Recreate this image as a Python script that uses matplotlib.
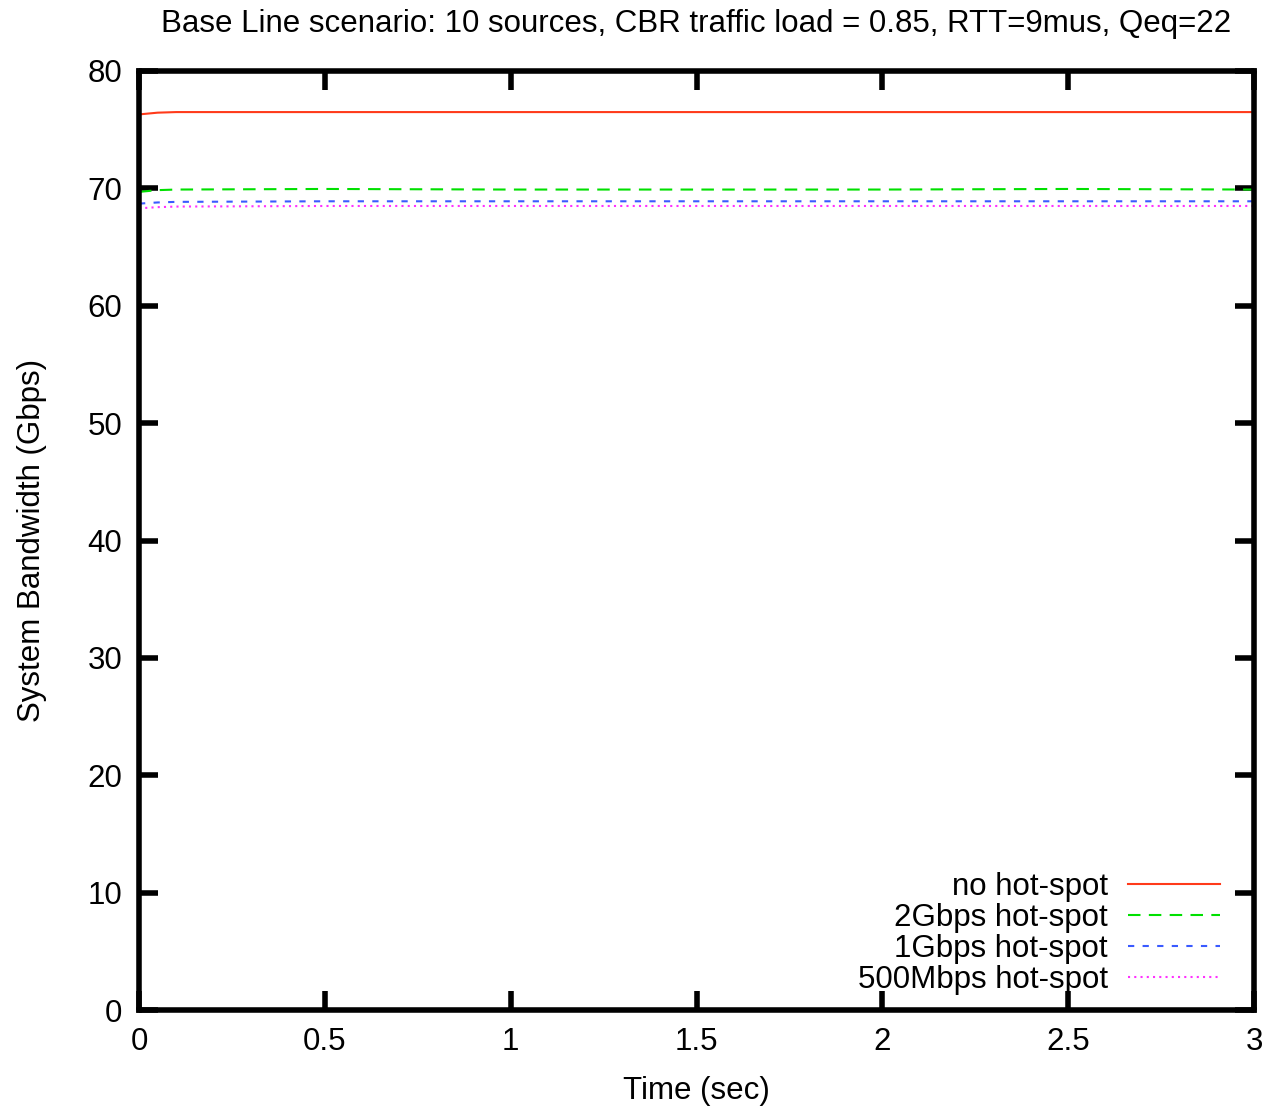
import matplotlib.pyplot as plt

# time axis (sec) and bandwidth (Gbps)
t = [0.0, 0.05, 0.1, 0.5, 1.0, 1.5, 2.0, 2.5, 3.0]
no_hot = [76.3, 76.45, 76.5, 76.5, 76.5, 76.5, 76.5, 76.5, 76.5]
hot_2g = [69.7, 69.85, 69.9, 69.95, 69.9, 69.9, 69.9, 69.95, 69.9]
hot_1g = [68.7, 68.8, 68.85, 68.9, 68.9, 68.9, 68.9, 68.9, 68.9]
hot_500m = [68.3, 68.4, 68.45, 68.5, 68.5, 68.5, 68.5, 68.5, 68.5]

plt.rcParams['font.family'] = ['Liberation Sans', 'DejaVu Sans']
fs = 22.5

fig = plt.figure(figsize=(12.74, 11.08), dpi=100)
ax = fig.add_axes([139 / 1274, 1 - 1010 / 1108, (1254 - 139) / 1274, (1010 - 71) / 1108])

ax.plot(t, no_hot, color='#ff3a1a', lw=1.5, label='no hot-spot')
ax.plot(t, hot_2g, color='#00e000', lw=1.5, dashes=(6, 4), label='2Gbps hot-spot')
ax.plot(t, hot_1g, color='#3a5aff', lw=1.5, dashes=(3, 4), label='1Gbps hot-spot')
ax.plot(t, hot_500m, color='#ff30ff', lw=1.5, dashes=(1, 2), label='500Mbps hot-spot')

ax.set_xlim(0, 3)
ax.set_ylim(0, 80)
ax.set_xticks([0, 0.5, 1, 1.5, 2, 2.5, 3])
ax.set_xticklabels(['0', '0.5', '1', '1.5', '2', '2.5', '3'])
ax.set_yticks(range(0, 81, 10))

for s in ax.spines.values():
    s.set_linewidth(4)
ax.tick_params(direction='in', length=14, width=4, labelsize=fs,
               top=True, right=True, pad=12)

ax.set_xlabel('Time (sec)', fontsize=fs, labelpad=14)
ax.set_ylabel('System Bandwidth (Gbps)', fontsize=fs, labelpad=29)
ax.set_title('Base Line scenario: 10 sources, CBR traffic load = 0.85, RTT=9mus, Qeq=22',
             fontsize=fs, pad=28)

ax.legend(loc='lower right', frameon=False, markerfirst=False, fontsize=fs,
          handlelength=2.95, labelspacing=0.03, borderaxespad=0,
          borderpad=0, handletextpad=0.64,
          bbox_to_anchor=(1 - 34 / 1115, 15 / 939))

plt.savefig('out.png', dpi=100)
